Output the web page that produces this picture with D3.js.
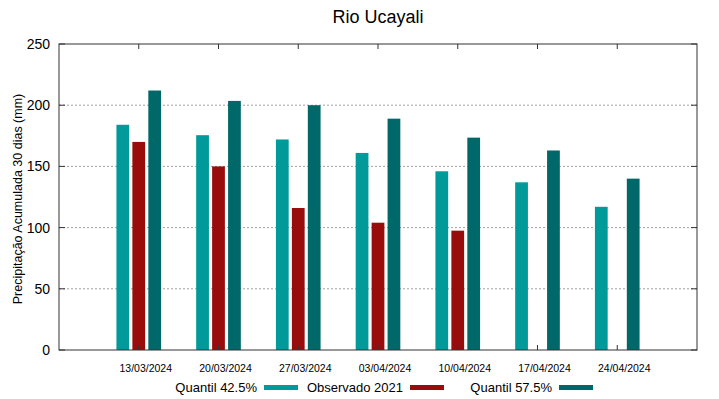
<!DOCTYPE html>
<html>
<head>
<meta charset="utf-8">
<script src="https://cdn.jsdelivr.net/npm/d3@7"></script>
<style>
  body { margin: 0; background: #fff; }
  text { font-family: "Liberation Sans", Arial, sans-serif; }
</style>
</head>
<body>
<div id="chart"></div>
<script>
// data
var dates = ["13/03/2024", "20/03/2024", "27/03/2024", "03/04/2024", "10/04/2024", "17/04/2024", "24/04/2024"];
var q425 = [184, 175.5, 172, 161, 146, 137, 117];
var obs2021 = [170, 150, 116, 104, 97.5, null, null];
var q575 = [212, 203.5, 200, 189, 173.5, 163, 140];
var yTicks = [0, 50, 100, 150, 200, 250];

var seriesNames = ["Quantil 42.5%", "Observado 2021", "Quantil 57.5%"];
var colors = ["#009a9a", "#990c0c", "#006868"];

var W = 719, H = 399;
var margin = {top: 44, right: 22, bottom: 49, left: 59},
    w = W - margin.left - margin.right,
    h = H - margin.top - margin.bottom;

var svg = d3.select("#chart")
  .append("svg")
  .attr("width", W)
  .attr("height", H);

var g = svg.append("g")
  .attr("transform", `translate(${margin.left},${margin.top})`);

// gnuplot-like histogram: groups at 0..6, x range -1..7
var x = d3.scaleLinear().domain([-1, 7]).range([0, w]);
var y = d3.scaleLinear().domain([0, 250]).range([h, 0]);

var barW = 0.16, offs = [-0.2, 0, 0.2];

// grid
g.selectAll(".grid")
  .data(yTicks.filter(d => d > 0 && d < 250))
  .enter().append("line")
  .attr("x1", 0).attr("x2", w)
  .attr("y1", d => y(d)).attr("y2", d => y(d))
  .attr("stroke", "#a0a0a0")
  .attr("stroke-width", 1)
  .attr("stroke-dasharray", "2,2");

// bars
var series = [q425, obs2021, q575];
series.forEach(function(vals, si) {
  g.selectAll(".bar" + si)
    .data(vals.map((v, i) => ({i: i, v: v})).filter(d => d.v != null))
    .enter().append("rect")
    .attr("x", d => x(d.i + offs[si] - barW / 2))
    .attr("y", d => y(d.v))
    .attr("width", x(barW) - x(0))
    .attr("height", d => h - y(d.v))
    .attr("fill", colors[si]);
});

// frame
g.append("rect")
  .attr("x", 0).attr("y", 0).attr("width", w).attr("height", h)
  .attr("fill", "none").attr("stroke", "#333").attr("stroke-width", 1);

// y ticks (inward both sides) + labels
yTicks.forEach(function(t) {
  g.append("line").attr("x1", 0).attr("x2", 6).attr("y1", y(t)).attr("y2", y(t)).attr("stroke", "#333");
  g.append("line").attr("x1", w - 6).attr("x2", w).attr("y1", y(t)).attr("y2", y(t)).attr("stroke", "#333");
  g.append("text")
    .attr("x", -9).attr("y", y(t) + 5)
    .attr("text-anchor", "end")
    .style("font-size", "14px")
    .text(t);
});

// x ticks (inward, mirrored) + labels
dates.forEach(function(d, i) {
  g.append("line").attr("x1", x(i)).attr("x2", x(i)).attr("y1", h).attr("y2", h - 5).attr("stroke", "#333");
  g.append("line").attr("x1", x(i)).attr("x2", x(i)).attr("y1", 0).attr("y2", 5).attr("stroke", "#333");
  g.append("text")
    .attr("x", x(i) + 7).attr("y", h + 22)
    .attr("text-anchor", "middle")
    .style("font-size", "10.5px")
    .text(d);
});

// title
svg.append("text")
  .attr("x", margin.left + w / 2).attr("y", 23)
  .attr("text-anchor", "middle")
  .style("font-size", "18px")
  .text("Rio Ucayali");

// y label
svg.append("text")
  .attr("transform", `translate(22,199) rotate(-90)`)
  .attr("text-anchor", "middle")
  .style("font-size", "12.5px")
  .text("Precipitação Acumulada 30 dias (mm)");

// legend
var legX = [257, 403, 552];
seriesNames.forEach(function(name, i) {
  svg.append("text")
    .attr("x", legX[i]).attr("y", 392)
    .attr("text-anchor", "end")
    .style("font-size", "13px")
    .text(name);
  svg.append("rect")
    .attr("x", legX[i] + 7).attr("y", 385)
    .attr("width", 34).attr("height", 5)
    .attr("fill", colors[i]);
});
</script>
</body>
</html>
